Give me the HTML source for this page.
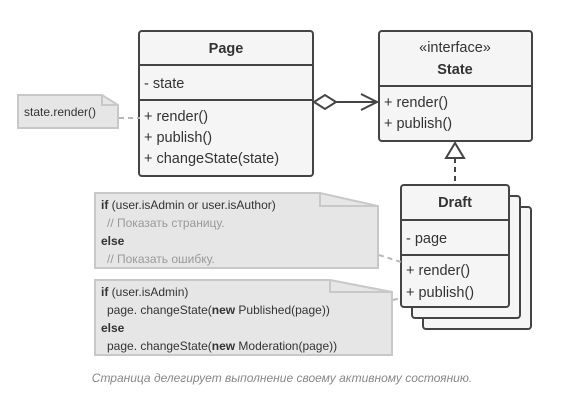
<!DOCTYPE html>
<html><head><meta charset="utf-8"><style>
body{margin:0;background:#fff;}
svg text{font-family:"Liberation Sans","DejaVu Sans",sans-serif;}
</style></head><body>
<svg width="564" height="412" viewBox="0 0 564 412" xmlns="http://www.w3.org/2000/svg">
<g fill="#f5f5f5" stroke="#444" stroke-width="2">
<rect x="139" y="31" width="174" height="145" rx="3"/>
<line x1="139" y1="65" x2="313" y2="65"/>
<line x1="139" y1="100" x2="313" y2="100"/>
<rect x="379" y="31" width="153" height="110" rx="3"/>
<line x1="379" y1="86" x2="532" y2="86"/>
<rect x="423" y="207" width="108" height="122" rx="3"/>
<rect x="412" y="196" width="108" height="122" rx="3"/>
<rect x="401" y="185" width="108" height="122" rx="3"/>
<line x1="401" y1="220" x2="509" y2="220"/>
<line x1="401" y1="255" x2="509" y2="255"/>
</g>
<g fill="#e6e6e6" stroke="#c8c8c8" stroke-width="2">
<path d="M18 95 H102 L118 105 V128 H18 Z"/>
<path d="M95 193 H320 L378 206 V268 H95 Z"/>
<path d="M95 280 H330 L392 292 V355 H95 Z"/>
</g>
<g fill="none" stroke="#c8c8c8" stroke-width="2">
<path d="M102 95 V105 H118"/>
<path d="M320 193 V206 H378"/>
<path d="M330 280 V292 H392"/>
</g>
<g stroke="#b8b8b8" stroke-width="2" stroke-dasharray="5,4" fill="none">
<line x1="119" y1="118" x2="140" y2="118"/>
<line x1="379" y1="255" x2="401" y2="262"/>
<line x1="393" y1="300" x2="401" y2="298"/>
</g>
<g stroke="#444" stroke-width="2" fill="#fff">
<line x1="336" y1="102" x2="377" y2="102"/>
<polygon points="314,102 325,95 336,102 325,109"/>
<polyline points="361,94 377,102 361,110" fill="none"/>
<line x1="455" y1="158" x2="455" y2="185" stroke-dasharray="5,4"/>
<polygon points="455,143 446,158 464,158"/>
</g>
<g fill="#333" font-size="14.5">
<text x="226" y="53" text-anchor="middle" font-weight="bold">Page</text>
<text x="144" y="88">- state</text>
<text x="144" y="121">+ render()</text>
<text x="144" y="142">+ publish()</text>
<text x="144" y="163">+ changeState(state)</text>
<text x="455" y="52" text-anchor="middle">«interface»</text>
<text x="455" y="74" text-anchor="middle" font-weight="bold">State</text>
<text x="384" y="107">+ render()</text>
<text x="384" y="128">+ publish()</text>
<text x="455" y="207" text-anchor="middle" font-weight="bold">Draft</text>
<text x="406" y="243">- page</text>
<text x="406" y="275">+ render()</text>
<text x="406" y="297">+ publish()</text>
</g>
<g fill="#333" font-size="12">
<text x="24" y="116">state.render()</text>
<text x="101" y="209"><tspan font-weight="bold">if</tspan> (user.isAdmin or user.isAuthor)</text>
<text x="107" y="227" fill="#999">// Показать страницу.</text>
<text x="101" y="245" font-weight="bold">else</text>
<text x="107" y="263" fill="#999">// Показать ошибку.</text>
<text x="101" y="296"><tspan font-weight="bold">if</tspan> (user.isAdmin)</text>
<text x="107" y="314">page. changeState(<tspan font-weight="bold">new</tspan> Published(page))</text>
<text x="101" y="332" font-weight="bold">else</text>
<text x="107" y="350">page. changeState(<tspan font-weight="bold">new</tspan> Moderation(page))</text>
</g>
<text x="282" y="382" text-anchor="middle" font-size="12" font-style="italic" fill="#888">Страница делегирует выполнение своему активному состоянию.</text>
</svg>
</body></html>
